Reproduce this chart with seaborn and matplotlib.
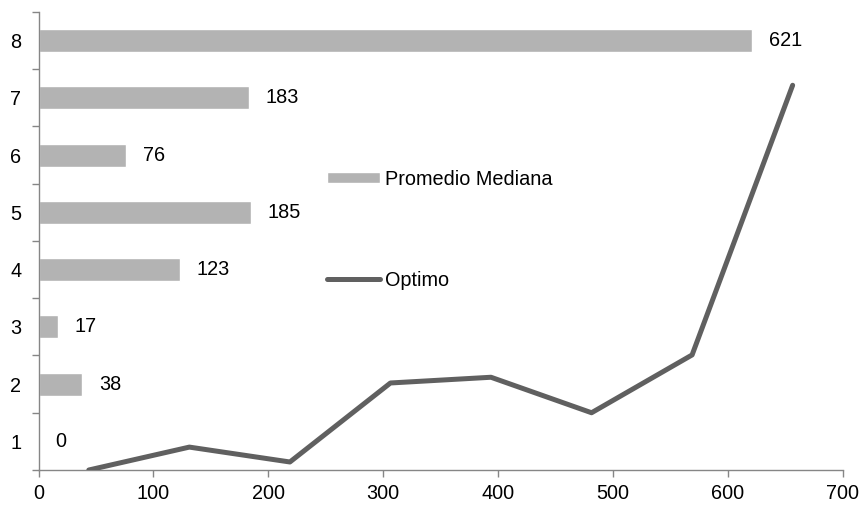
import matplotlib
matplotlib.use("Agg")
import matplotlib.pyplot as plt
import seaborn as sns
import pandas as pd
from matplotlib.ticker import FixedLocator, NullFormatter

# datos del grafico
categorias = [1, 2, 3, 4, 5, 6, 7, 8]
promedio_mediana = [0, 38, 17, 123, 185, 76, 183, 621]
optimo = [0, 40, 14, 152, 162, 100, 201, 672]
x_ticks = [0, 100, 200, 300, 400, 500, 600, 700]

sns.set_style("white")
plt.rcParams['font.family'] = ['Liberation Sans', 'DejaVu Sans']
plt.rcParams['font.size'] = 14
plt.rcParams['text.color'] = 'black'
plt.rcParams['xtick.labelcolor'] = 'black'
plt.rcParams['ytick.labelcolor'] = 'black'

df = pd.DataFrame({'Categoria': categorias,
                   'Promedio Mediana': promedio_mediana,
                   'Optimo': optimo})

fig = plt.figure(figsize=(8.64, 5.08), dpi=100)
pos = [0.0446, 0.0748, 0.931, 0.9016]
ax = fig.add_axes(pos)

# barras horizontales
sns.barplot(data=df, x='Promedio Mediana', y='Categoria', orient='y',
            native_scale=True, width=0.4, color='#b3b3b3', saturation=1,
            ax=ax, label='Promedio Mediana')
ax.bar_label(ax.containers[0], padding=12, fontsize=14.3, color='black')
if ax.get_legend() is not None:
    ax.get_legend().remove()

ax.set_xlim(0, 700)
ax.set_ylim(0.5, 8.5)
ax.set_xticks(x_ticks)
ax.yaxis.set_major_locator(FixedLocator([c - 0.5 for c in categorias] + [8.5]))
ax.yaxis.set_major_formatter(NullFormatter())
ax.yaxis.set_minor_locator(FixedLocator(categorias))
ax.set_yticklabels([str(c) for c in categorias], minor=True)
ax.tick_params(axis='y', which='major', length=5, width=1, color='#868686', direction='out', left=True)
ax.tick_params(axis='y', which='minor', length=0, pad=12.5, labelsize=14.3)
ax.tick_params(axis='x', length=5, width=1, color='#868686', direction='out', bottom=True, labelsize=14.3, pad=5)
ax.set_xlabel('')
ax.set_ylabel('')
for s in ['top', 'right']:
    ax.spines[s].set_visible(False)
for s in ['left', 'bottom']:
    ax.spines[s].set_color('#868686')
    ax.spines[s].set_linewidth(1)

# linea en eje secundario
ax2 = fig.add_axes(pos, frameon=False)
sns.lineplot(data=df, x='Categoria', y='Optimo', color='#606060', linewidth=3.6,
             ax=ax2, label='Optimo')
ax2.set_xlim(0.5, 8.5)
ax2.set_ylim(0, 800)
ax2.set_xticks([])
ax2.set_yticks([])
ax2.set_xlabel('')
ax2.set_ylabel('')
ax2.get_legend().remove()

h1, l1 = ax.get_legend_handles_labels()
h2, l2 = ax2.get_legend_handles_labels()
fig.legend(h1 + h2, l1 + l2, loc='center left', bbox_to_anchor=(0.378, 0.548),
           bbox_transform=fig.transFigure, frameon=False, fontsize=14.3,
           handlelength=2.7, handleheight=0.5, handletextpad=0.25,
           labelspacing=4.12, borderpad=0, borderaxespad=0)

plt.savefig('out.png', dpi=100)
